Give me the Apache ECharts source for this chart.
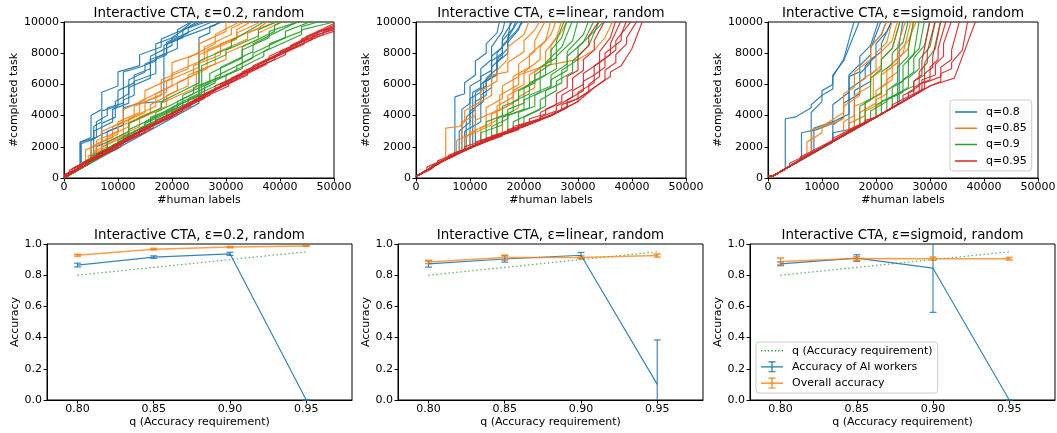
<!DOCTYPE html>
<html>
<head>
<meta charset="utf-8">
<script src="https://cdn.jsdelivr.net/npm/echarts@6/dist/echarts.min.js"></script>
<style>
html, body { margin: 0; padding: 0; background: #fff; }
#chart { width: 1057px; height: 433px; }
</style>
</head>
<body>
<div id="chart"></div>
<script>
// ---- Completed-task traces ----------------------------------------------
// Each run is a flat list of vertices: x, y, x, y, ...
// x = human labels (thousands), y = completed tasks (thousands).

// ε = 0.2
const runsEps02Q80 = [
  [0,0, 3,0.6, 3,2.3, 6,2.6, 6,3.6, 8,4.0, 8,4.5, 11,4.8, 11,6.8, 14,7.1, 17,7.5, 17,8.6, 21,9.1, 21,9.5, 24,10.1],
  [0,0, 3.2,0.7, 3.2,2.2, 5.5,2.5, 5.5,3.3, 7,3.6, 7,4.3, 10,4.6, 10,5.6, 13,6.1, 13,6.6, 16,7.0, 16,7.8, 20,8.5, 20,9.0, 25,10.1],
  [0,0, 5,1.0, 5,2.4, 7,2.8, 7,3.5, 9.5,3.9, 9.5,4.9, 12,5.4, 12,6.3, 15,6.8, 15,7.3, 19,7.9, 19,8.6, 23,9.3, 23,9.6, 27,10.1],
  [0,0, 6,1.2, 6,2.0, 8,2.3, 8,3.0, 11,3.4, 11,4.5, 14,4.8, 18.5,4.9, 18.5,8.5, 22,9.0, 22,9.5, 26,10.1],
  [0,0, 25,4.8, 25,9.0, 27,9.3, 27,9.7, 30,10.1],
  [0,0, 3,0.6, 3,2.3, 5,2.6, 5,4.0, 7,4.4, 7,5.5, 10,5.9, 10,6.8, 14,7.2, 14,7.9, 18,8.4, 18,8.9, 22,9.5, 24,10.1],
  [0,0, 5.5,1.1, 5.5,3.0, 9,3.6, 9,4.4, 12,4.8, 12,5.8, 16,6.4, 16,7.6, 19,8.0, 19,8.7, 24,9.5, 28,10.1],
  [0,0, 7,1.4, 7,2.8, 11,3.4, 11,5.0, 13,5.3, 13,6.2, 17,6.7, 17,7.7, 21,8.3, 21,8.9, 28,9.8, 29,10.1]
];
const runsEps02Q85 = [
  [0,0, 4,0.8, 4,1.8, 7,2.2, 7,3.0, 11,3.6, 11,4.4, 15,5.0, 15,5.6, 20,6.4, 20,7.4, 25,8.0, 25,8.6, 30,9.4, 30,10.1],
  [0,0, 5,1.0, 5,2.0, 9,2.6, 9,3.3, 13,3.9, 13,4.6, 18,5.3, 18,6.3, 23,7.0, 23,7.7, 28,8.6, 28,9.2, 33,10.1],
  [0,0, 6,1.2, 6,2.4, 10,3.0, 10,3.6, 14,4.2, 14,4.9, 20,5.9, 20,6.7, 26,7.6, 26,8.4, 31,9.2, 31,9.6, 34,10.1],
  [0,0, 4.5,0.9, 4.5,1.4, 8,2.0, 8,2.6, 12,3.3, 12,3.8, 17,4.6, 17,5.4, 24,6.6, 24,7.2, 29,7.9, 29,8.6, 36,9.6, 38,10.1],
  [0,0, 7,1.4, 7,2.0, 11,2.7, 11,3.4, 16,4.2, 16,4.7, 21,5.6, 21,6.1, 26.5,7.0, 26.5,8.2, 32,9.0, 32,9.3, 37,10.1],
  [0,0, 5.5,1.1, 5.5,1.7, 12,2.8, 12,3.5, 18,4.4, 18,4.8, 24.5,5.8, 24.5,6.8, 30,7.6, 30,8.0, 36,8.9, 36,9.3, 41,10.1],
  [0,0, 3,0.6, 3,0.9, 6,1.4, 6,2.2, 10,2.8, 10,3.4, 15,4.2, 15,4.9, 19,5.5, 19,6.2, 25,7.1, 25,7.9, 32,8.9, 32,9.5, 35,10.1],
  [0,0, 8,1.6, 8,2.3, 14,3.3, 14,3.9, 19,4.6, 19,5.3, 23,5.9, 23,6.6, 28,7.3, 28,8.0, 34,8.9, 34,9.3, 40,10.1]
];
const runsEps02Q90 = [
  [0,0, 4,0.8, 4,1.1, 8,1.8, 8,2.3, 12,3.0, 12,3.5, 18,4.5, 18,4.9, 25,6.1, 25,7.5, 31,8.4, 31,8.8, 37,10.0],
  [0,0, 5,1.0, 5,1.2, 10,2.0, 10,2.4, 15,3.3, 15,3.6, 22,4.9, 22,5.3, 27,6.1, 27,6.7, 33,7.7, 33,8.4, 39,9.4, 39,9.8, 41,10.1],
  [0,0, 6,1.2, 6,1.5, 12,2.5, 12,3.1, 17,3.9, 17,4.2, 24,5.4, 24,5.8, 29,6.5, 29,7.1, 35,8.1, 35,8.6, 42,9.8, 44,10.1],
  [0,0, 7,1.4, 7,1.7, 13,2.7, 13,3.0, 19,4.0, 19,4.3, 25,5.3, 25,5.9, 30,6.6, 33,7.0, 33,8.2, 38,9.0, 38,9.4, 45,10.2],
  [0,0, 5,1.0, 5,1.4, 11,2.4, 11,2.7, 16,3.4, 16,3.9, 21,4.5, 21,4.9, 28,6.1, 28,6.5, 35,7.7, 35,8.0, 41,9.0, 41,9.4, 47,10.2],
  [0,0, 8,1.6, 8,1.9, 14,2.9, 14,3.2, 20,4.1, 20,4.5, 26,5.4, 26,5.9, 32,6.9, 32,7.2, 38,8.3, 38,8.6, 44,9.4, 44,9.7, 49,10.2],
  [0,0, 9,1.8, 9,2.1, 15,3.1, 15,3.5, 22,4.6, 22,4.9, 25.5,5.4, 25.5,7.2, 30,7.9, 30,8.2, 36,9.1, 36,9.5, 40,10.1],
  [0,0, 10,2.0, 10,2.3, 17,3.5, 17,3.9, 23,4.8, 23,5.1, 30,6.2, 30,6.6, 37,7.8, 37,8.1, 44,9.2, 44,9.5, 50,10.0]
];
const runsEps02Q95 = [
  [0,0.1, 2,0.5, 2,0.7, 6,1.3, 6,1.5, 11,2.2, 11,2.5, 16,3.2, 16,3.4, 22,4.3, 22,4.6, 28,5.6, 28,5.9, 35,7.0, 35,7.2, 42,8.3, 42,8.5, 50,9.8],
  [0,0.2, 3,0.6, 3,0.8, 8,1.6, 8,1.8, 13,2.6, 13,2.8, 19,3.8, 19,4.0, 25,5.0, 25,5.2, 31,6.2, 31,6.4, 38,7.6, 38,7.8, 45,8.9, 45,9.1, 50,9.7],
  [0,0, 1,0.3, 1,0.5, 5,1.1, 5,1.3, 9,1.9, 9,2.1, 14,2.9, 14,3.1, 20,4.0, 20,4.2, 26,5.2, 26,5.4, 33,6.6, 33,6.8, 40,7.9, 40,8.1, 47,9.2, 47,9.4, 50,9.6],
  [0,0.1, 4,0.8, 4,1.0, 10,1.9, 10,2.1, 15,2.9, 15,3.1, 21,4.1, 21,4.3, 27,5.3, 27,5.5, 34,6.6, 34,6.8, 41,7.9, 41,8.1, 48,9.2, 48,9.4, 50,9.6],
  [0,0, 2.5,0.5, 2.5,0.7, 7,1.4, 7,1.6, 12,2.4, 12,2.6, 18,3.6, 18,3.8, 24,4.8, 24,5.0, 30,6.0, 30,6.2, 37,7.3, 37,7.5, 44,8.7, 44,8.9, 50,9.9],
  [0,0.2, 3.5,0.8, 3.5,1.0, 9,1.8, 9,2.0, 14,2.8, 14,3.0, 20,3.9, 20,4.1, 26,5.1, 26,5.3, 32,6.3, 32,6.5, 39,7.6, 39,7.8, 46,8.9, 46,9.1, 50,9.5],
  [0,0, 1.5,0.4, 1.5,0.6, 6.5,1.4, 6.5,1.6, 11.5,2.4, 11.5,2.6, 17,3.5, 17,3.7, 23,4.6, 23,4.8, 29,5.8, 29,6.0, 36,7.1, 36,7.3, 43,8.4, 43,8.6, 50,9.6],
  [0,0.1, 4.5,0.9, 4.5,1.1, 10.5,2.0, 10.5,2.2, 16.5,3.2, 16.5,3.4, 23.5,4.6, 23.5,4.8, 30.5,5.9, 30.5,6.1, 37.5,7.3, 37.5,7.5, 44.5,8.6, 44.5,8.8, 50,9.4]
];

// ε = linear
const runsLinQ80 = [
  [0,0.1, 5,1.1, 7.2,1.5, 7.2,5.2, 9,5.4, 9,6.1, 11,6.6, 11,7.5, 13,8.0, 13,8.6, 15,9.3, 15.5,10.1],
  [0,0.1, 5,1.1, 8.5,1.75, 8.5,4.4, 10,4.8, 10,5.9, 12,6.3, 12,7.0, 14,7.6, 14,8.4, 16,9.4, 16.5,10.1],
  [0,0.1, 5,1.1, 9.3,1.85, 9.3,3.9, 11,4.4, 11,5.5, 13,5.9, 13,6.4, 15,7.0, 15,8.0, 17,8.8, 17.5,10.1],
  [0,0.1, 5,1.1, 10.5,2.0, 10.5,5.5, 12,5.8, 12,6.5, 14,6.9, 14,7.8, 16,8.4, 16,9.0, 18,10.1],
  [0,0.1, 5,1.1, 8,1.65, 8,3.0, 10,3.6, 10,5.1, 12,5.5, 12,6.0, 14,6.6, 14,7.5, 16,8.0, 16,8.8, 18,9.6, 18.5,10.1],
  [0,0.1, 5,1.1, 11,2.1, 11,4.9, 13,5.3, 13,6.2, 15,6.6, 15,7.4, 17,8.0, 17,8.7, 19,9.5, 19.5,10.1],
  [0,0.1, 5,1.1, 9,1.8, 9,3.0, 12,3.6, 12,5.3, 14,5.8, 14,7.1, 16,7.8, 16,8.5, 18.5,9.4, 20,10.1],
  [0,0.1, 5,1.1, 10,1.95, 10,4.3, 12.5,4.9, 12.5,6.1, 15,6.7, 15,7.6, 17,8.3, 17,9.0, 19,10.1]
];
const runsLinQ85 = [
  [0,0.1, 5.5,1.2, 5.5,3.2, 8,3.3, 9,3.6, 9,4.3, 12,4.9, 12,5.6, 15,6.2, 15,6.9, 17,7.6, 17,8.4, 20,9.2, 21,10.1],
  [0,0.1, 5,1.1, 8.5,1.7, 8.5,3.6, 11,4.0, 11,4.7, 14,5.3, 14,6.6, 17,6.8, 17,7.4, 20,8.1, 20,8.8, 22,9.5, 23,10.1],
  [0,0.1, 5,1.1, 10,1.95, 10,2.9, 13,3.4, 13,4.5, 16,5.1, 16,5.9, 19,6.5, 19,7.3, 22,8.1, 22,8.8, 24,10.1],
  [0,0.1, 5,1.1, 10,1.95, 12,2.3, 12,3.2, 15,3.7, 15,4.6, 18,5.2, 18,6.5, 21,7.1, 21,7.9, 24,8.8, 25,10.1],
  [0,0.1, 5,1.1, 10,1.95, 15,2.65, 15,4.3, 18,4.8, 18,5.6, 20,6.0, 20,6.8, 23,7.6, 23,8.4, 25,9.2, 26,10.1],
  [0,0.1, 5,1.1, 9,1.8, 9,2.6, 14,3.4, 14,4.1, 17,4.6, 17,5.3, 21,6.0, 21,6.6, 24,7.3, 24,8.1, 26,9.0, 27,10.1],
  [0,0.1, 5,1.1, 7.5,1.5, 7.5,2.4, 11,3.0, 11,3.7, 15.5,4.4, 15.5,5.3, 19,6.0, 19,6.6, 24,7.2, 30,7.6, 33,8.2, 35,9.0, 36.5,10.1],
  [0,0.1, 5,1.1, 10,1.95, 16,2.8, 16,3.9, 19,4.5, 19,5.2, 22,5.8, 22,6.8, 25,7.6, 25,8.5, 27,9.4, 28,10.1]
];
const runsLinQ90 = [
  [0,0.1, 5,1.1, 10,1.95, 13,2.4, 13,3.6, 16,4.0, 16,4.6, 19,5.0, 19,5.6, 22,6.1, 22,6.6, 25,7.3, 25,8.2, 27,9.0, 28,10.1],
  [0,0.1, 5,1.1, 10,1.95, 15,2.65, 15,3.8, 18,4.3, 18,4.9, 21,5.4, 21,6.1, 24,6.6, 24,7.4, 27,8.4, 29,10.1],
  [0,0.1, 5,1.1, 10,1.95, 15,2.65, 17,3.0, 17,4.0, 20,4.4, 20,5.0, 23,5.5, 23,6.4, 26,7.0, 26,7.8, 29,8.8, 30,10.1],
  [0,0.1, 5,1.1, 10,1.95, 15,2.65, 19,3.2, 19,4.2, 22,4.6, 22,5.3, 25,5.8, 25,6.6, 28,7.3, 28,8.1, 31,9.2, 32,10.1],
  [0,0.1, 5,1.1, 10,1.95, 12,2.25, 12,2.9, 16,3.4, 16,3.9, 21,4.5, 21,5.3, 25,5.9, 25,6.3, 28,6.9, 28,7.8, 31,8.7, 33,10.1],
  [0,0.1, 5,1.1, 10,1.95, 15,2.65, 20,3.3, 20,3.9, 23,4.4, 23,5.0, 26,5.6, 26,6.2, 29,6.8, 29,7.5, 32,8.5, 34,10.1],
  [0,0.1, 5,1.1, 10,1.95, 15,2.65, 18,3.1, 18,3.6, 24,4.6, 24,5.6, 27,6.1, 27,6.9, 30,7.6, 30,8.4, 33,9.4, 35,10.1],
  [0,0.1, 5,1.1, 10,1.95, 14,2.5, 14,3.3, 17,3.8, 17,4.4, 20,4.8, 20,5.8, 23,6.4, 23,7.1, 26,7.7, 26,8.8, 27.5,10.1]
];
const runsLinQ95 = [
  [0,0.1, 3,0.6, 3,0.8, 7,1.4, 7,1.6, 12,2.2, 12,2.4, 17,2.9, 17,3.1, 21,3.5, 21,3.8, 24,4.1, 24,4.4, 27,4.9, 27,5.3, 29,5.7, 29,6.4, 31,6.9, 31,7.6, 33,8.2, 33,8.8, 35,10.1],
  [0,0.1, 5,1.1, 10,1.95, 14,2.5, 14,2.7, 20,3.3, 23,3.7, 23,3.9, 26,4.3, 26,4.6, 29,5.2, 29,5.6, 31,6.0, 31,6.7, 34,7.4, 34,8.1, 36,9.0, 37,10.1],
  [0,0.1, 4,0.9, 4,1.1, 9,1.8, 9,2.0, 15,2.65, 18,3.0, 18,3.3, 25,4.0, 28,4.6, 28,5.0, 31,5.6, 31,6.2, 33,6.6, 33,7.2, 36,7.9, 36,8.6, 38,10.1],
  [0,0.1, 5,1.1, 10,1.95, 16,2.7, 16,2.9, 22,3.6, 25,4.0, 30,4.9, 30,5.5, 33,6.1, 33,6.6, 35,7.1, 35,8.0, 38,8.8, 38,9.2, 39,10.1],
  [0,0.1, 2,0.5, 2,0.7, 8,1.6, 13,2.35, 13,2.55, 20,3.3, 25,4.05, 27,4.4, 27,4.7, 30,5.1, 32,5.5, 32,6.0, 34,6.5, 34,7.4, 37,8.2, 37,8.8, 40,10.1],
  [0,0.1, 5,1.1, 10,1.95, 15,2.65, 19,3.1, 19,3.35, 25,4.0, 30,4.9, 33,5.8, 35,6.3, 35,6.9, 37,7.4, 37,7.9, 39,8.6, 39,9.0, 41,10.1],
  [0,0.1, 6,1.25, 6,1.45, 10,1.95, 15,2.65, 20,3.3, 25,4.0, 28,4.5, 28,4.8, 30,5.1, 33,5.8, 36,6.5, 36,6.8, 38,7.2, 40,8.3, 42,10.1],
  [0,0.1, 5,1.1, 11,2.05, 11,2.3, 20,3.3, 23,3.8, 23,4.2, 26,4.7, 26,5.4, 28,5.8, 28,6.5, 30,6.9, 30,7.8, 32,8.5, 32,9.1, 34,10.1]
];

// ε = sigmoid
const runsSigQ80 = [
  [0,0.15, 1,0.15, 3.2,0.6, 3.2,3.8, 5,3.9, 8,4.5, 8,4.7, 10,5.3, 10,5.6, 12,6.0, 12,6.5, 14,7.6, 16,10.1],
  [0,0.15, 1,0.15, 8,1.6, 8,4.2, 10,4.9, 10,5.3, 12,5.7, 12,6.6, 14,7.5, 17,10.1],
  [0,0.15, 1,0.15, 6.2,1.2, 6.2,2.9, 9,3.1, 12,3.5, 12,4.7, 15,5.5, 15,6.6, 17,7.3, 17,7.8, 19,8.5, 20.5,10.1],
  [0,0.15, 1,0.15, 12,2.3, 12,2.9, 15,3.1, 15,6.5, 17,6.8, 17,7.2, 19,7.9, 19,8.4, 21,9.2, 22,10.1],
  [0,0.15, 1,0.15, 8.5,1.7, 8.5,3.2, 12,3.6, 15,4.1, 15,5.7, 18,6.4, 18,7.2, 20,7.8, 20,8.6, 22,9.4, 23,10.1],
  [0,0.15, 1,0.15, 10,1.95, 16,3.2, 16,5.6, 19,6.2, 19,7.6, 21,8.1, 21,8.6, 23,10.1],
  [0,0.15, 1,0.15, 10,1.95, 20,3.9, 24.3,4.8, 24.3,8.6, 25,10.1],
  [0,0.15, 1,0.15, 12,2.3, 12,3.4, 14,3.9, 14,4.8, 17,5.4, 17,6.7, 19,7.4, 19,8.3, 21,10.1]
];
const runsSigQ85 = [
  [0,0.15, 1,0.15, 7.2,1.4, 7.2,2.3, 10,2.9, 10,3.3, 14,4.2, 14,5.4, 16,5.8, 16,6.8, 19,7.6, 19,8.4, 21,9.2, 22,10.1],
  [0,0.15, 1,0.15, 8.1,1.6, 8.1,3.1, 12,3.5, 14,3.8, 14,4.6, 17,5.3, 17,6.2, 20,6.9, 20,8.0, 22,8.7, 23,10.1],
  [0,0.15, 1,0.15, 10,1.95, 14,2.8, 14,3.6, 16,4.0, 16,5.3, 19,5.9, 19,6.6, 21,7.2, 21,8.1, 23,8.8, 24,10.1],
  [0,0.15, 1,0.15, 10,1.95, 16,3.2, 16,4.6, 19.5,5.1, 19.5,6.5, 21,6.9, 21,7.6, 23,8.3, 24.5,10.1],
  [0,0.15, 1,0.15, 10,1.95, 17,3.3, 17,4.2, 20,4.8, 20,5.6, 22,6.1, 22,7.0, 24,7.7, 24,8.5, 25.5,10.1],
  [0,0.15, 1,0.15, 10,1.95, 18,3.5, 18,4.3, 21,4.8, 21,5.8, 23,6.3, 23,7.3, 25,8.0, 26.5,10.1],
  [0,0.15, 1,0.15, 10,1.95, 15,2.9, 15,3.5, 18,4.0, 18,4.8, 21,5.5, 21,6.6, 24,7.4, 24,8.0, 26,8.8, 27.5,10.1],
  [0,0.15, 1,0.15, 10,1.95, 20,3.9, 20,5.0, 22,5.4, 22,6.3, 24,6.8, 24,7.6, 26,8.3, 27,10.1]
];
const runsSigQ90 = [
  [0,0.15, 1,0.15, 10,1.95, 17,3.3, 17,4.6, 19,5.0, 19,6.4, 21,7.0, 21,7.6, 23,8.3, 24.5,10.1],
  [0,0.15, 1,0.15, 10,1.95, 18,3.5, 18,4.9, 21,5.4, 21,6.8, 23,7.3, 23,8.0, 25,8.7, 26,10.1],
  [0,0.15, 1,0.15, 10,1.95, 19,3.7, 19,4.3, 22,4.9, 22,5.6, 24,6.1, 24,7.1, 26,7.8, 26,8.4, 27,10.1],
  [0,0.15, 1,0.15, 10,1.95, 20,3.9, 20,4.7, 23,5.2, 23,5.8, 25,6.2, 25,7.2, 27,7.9, 28,10.1],
  [0,0.15, 1,0.15, 10,1.95, 21,4.1, 21,4.9, 24,5.4, 24,6.0, 26,6.5, 26,7.6, 28,8.3, 29,10.1],
  [0,0.15, 1,0.15, 10,1.95, 22,4.3, 22,5.0, 25,5.5, 25,6.3, 27,6.8, 27,7.7, 29,8.5, 30,10.1],
  [0,0.15, 1,0.15, 10,1.95, 23,4.5, 23,5.2, 26,5.8, 26,6.4, 28,7.0, 28,7.6, 30,8.4, 31,10.1],
  [0,0.15, 1,0.15, 10,1.95, 24,4.7, 24,5.4, 27,5.9, 27,6.2, 29,6.6, 29,7.4, 31,8.3, 32,10.1]
];
const runsSigQ95 = [
  [0,0.15, 1,0.15, 6,1.15, 6,1.35, 13,2.6, 20,3.9, 25,4.9, 25,5.3, 27,5.6, 27,6.2, 28.5,6.6, 28.5,7.5, 30,10.1],
  [0,0.15, 1,0.15, 10,1.95, 15,2.9, 15,3.1, 20,3.9, 26,5.1, 26,5.5, 28,5.9, 28,6.8, 29.5,7.4, 29.5,8.1, 31,10.1],
  [0,0.15, 1,0.15, 4,0.75, 4,0.95, 10,1.95, 20,3.9, 27,5.3, 27,5.8, 29,6.2, 29,6.7, 30.5,7.1, 30.5,7.8, 32,10.1],
  [0,0.15, 1,0.15, 10,1.95, 18,3.5, 18,3.7, 20,3.9, 28,5.5, 28,6.0, 30,6.3, 30,7.1, 31.5,7.6, 31.5,8.3, 33,10.1],
  [0,0.15, 1,0.15, 10,1.95, 12,2.35, 12,2.55, 20,3.9, 28.5,5.6, 28.5,6.3, 31,6.6, 31,7.3, 32.5,7.8, 32.5,8.6, 34,10.1],
  [0,0.15, 1,0.15, 10,1.95, 20,3.9, 23,4.5, 23,4.7, 29,5.75, 29,6.1, 32,6.5, 32,7.1, 34,7.6, 34,8.2, 35.5,10.1],
  [0,0.15, 1,0.15, 10,1.95, 20,3.9, 30,5.9, 32,6.2, 32,6.7, 34,7.0, 34,7.4, 36,8.2, 37,10.1],
  [0,0.15, 1,0.15, 10,1.95, 20,3.9, 30,5.9, 34.5,6.4, 38.5,10.1]
];

// ---- Accuracy summaries ----------------------------------------------------
const qLevels = [0.80, 0.85, 0.90, 0.95];

const aiAccEps02 = [0.865, 0.916, 0.937, 0.0];
const aiErrEps02 = [0.012, 0.008, 0.010, 0.0];
const overallEps02 = [0.928, 0.967, 0.980, 0.987];
const overallErrEps02 = [0.006, 0.005, 0.004, 0.002];

const aiAccLin = [0.872, 0.904, 0.928, 0.10];
const aiErrLin = [0.020, 0.020, 0.018, 0.285];
const overallLin = [0.885, 0.913, 0.914, 0.926];
const overallErrLin = [0.010, 0.016, 0.010, 0.010];

const aiAccSig = [0.873, 0.910, 0.845, 0.0];
const aiErrSig = [0.012, 0.021, 0.283, 0.0];
const overallSig = [0.888, 0.907, 0.906, 0.906];
const overallErrSig = [0.022, 0.012, 0.010, 0.008];

// ---- Labels ----------------------------------------------------------------
const panelTitles = [
  'Interactive CTA, ε=0.2, random',
  'Interactive CTA, ε=linear, random',
  'Interactive CTA, ε=sigmoid, random'
];
const qNames = ['q=0.8', 'q=0.85', 'q=0.9', 'q=0.95'];
const xTicksQ = [0.80, 0.85, 0.90, 0.95];
const reqName = 'q (Accuracy requirement)';
const aiName = 'Accuracy of AI workers';
const overallName = 'Overall accuracy';

// ---- Chart -----------------------------------------------------------------
const FONT = 'DejaVu Sans';
const C = { blue: '#1f77b4', orange: '#ff7f0e', green: '#2ca02c', red: '#d62728' };
const qColors = [C.blue, C.orange, C.green, C.red];

const topRuns = [
  [runsEps02Q80, runsEps02Q85, runsEps02Q90, runsEps02Q95],
  [runsLinQ80, runsLinQ85, runsLinQ90, runsLinQ95],
  [runsSigQ80, runsSigQ85, runsSigQ90, runsSigQ95]
];
const accPanels = [
  { ai: aiAccEps02, aiErr: aiErrEps02, all: overallEps02, allErr: overallErrEps02 },
  { ai: aiAccLin, aiErr: aiErrLin, all: overallLin, allErr: overallErrLin },
  { ai: aiAccSig, aiErr: aiErrSig, all: overallSig, allErr: overallErrSig }
];

function toPairs(run) {
  const out = [];
  for (let i = 0; i < run.length; i += 2) out.push([run[i] * 1000, run[i + 1] * 1000]);
  return out;
}

const topGridLefts = [64, 416, 768];
const botGridLefts = [47, 398, 750];
const grids = [];
topGridLefts.forEach(l => grids.push({ left: l, top: 22, width: 270, height: 156 }));
botGridLefts.forEach(l => grids.push({ left: l, top: 244, width: 305, height: 156 }));
grids.forEach(g => {
  g.show = true; g.borderColor = '#000'; g.borderWidth = 1;
  g.backgroundColor = 'transparent'; g.outerBoundsMode = 'none'; g.containLabel = false;
});

const titles = grids.map((g, i) => ({
  text: panelTitles[i % 3],
  left: g.left + g.width / 2,
  top: i < 3 ? 7 : 229,
  textAlign: 'center',
  padding: 0,
  textStyle: { fontFamily: FONT, fontSize: 13.4, fontWeight: 'normal', color: '#000' }
}));

const axisText = { fontFamily: FONT, fontSize: 11, color: '#000' };
const axisCommon = {
  axisLine: { show: true, onZero: false, lineStyle: { color: '#000', width: 1 } },
  axisTick: { show: true, length: 3.5, lineStyle: { color: '#000', width: 1 } },
  splitLine: { show: false },
  nameLocation: 'middle',
  nameTextStyle: axisText
};
const plainNumber = v => String(Math.round(v));

const xAxes = [], yAxes = [];
for (let i = 0; i < 3; i++) {
  xAxes.push(Object.assign({}, axisCommon, {
    type: 'value', gridIndex: i, min: 0, max: 50000, interval: 10000,
    name: '#human labels', nameGap: 17,
    axisLabel: Object.assign({ margin: 4, formatter: plainNumber }, axisText)
  }));
  yAxes.push(Object.assign({}, axisCommon, {
    type: 'value', gridIndex: i, min: 0, max: 10000, interval: 2000,
    name: '#completed task', nameGap: 41,
    axisLabel: Object.assign({ margin: 5, formatter: plainNumber }, axisText)
  }));
}
for (let i = 0; i < 3; i++) {
  xAxes.push(Object.assign({}, axisCommon, {
    type: 'value', gridIndex: i + 3, min: 0.78, max: 0.98,
    name: 'q (Accuracy requirement)', nameGap: 17,
    axisTick: { show: true, length: 3.5, lineStyle: { color: '#000', width: 1 }, customValues: xTicksQ },
    axisLabel: Object.assign({ margin: 4, customValues: xTicksQ, formatter: v => Number(v).toFixed(2) }, axisText)
  }));
  yAxes.push(Object.assign({}, axisCommon, {
    type: 'value', gridIndex: i + 3, min: 0, max: 1, interval: 0.2,
    name: 'Accuracy', nameGap: 23,
    axisLabel: Object.assign({ margin: 5, formatter: v => Number(v).toFixed(1) }, axisText)
  }));
}

const series = [];
topRuns.forEach((panel, p) => {
  panel.forEach((runs, k) => {
    runs.forEach(run => {
      series.push({
        type: 'line', name: qNames[k], xAxisIndex: p, yAxisIndex: p,
        data: toPairs(run), symbol: 'none', silent: true, clip: true,
        lineStyle: { color: qColors[k], width: 1.2, opacity: 0.9 },
        itemStyle: { color: qColors[k] }
      });
    });
  });
});

function errorBars(name, color, gi, values, errs, width) {
  return {
    type: 'custom', name, xAxisIndex: gi, yAxisIndex: gi, silent: true,
    itemStyle: { color },
    data: qLevels.map((q, j) => [q, values[j] - errs[j], values[j] + errs[j]]),
    encode: { x: 0, y: [1, 2] },
    renderItem(params, api) {
      const cs = params.coordSys;
      const yTop = cs.y, yBot = cs.y + cs.height;
      const x = api.value(0);
      const a = api.coord([x, api.value(1)]);
      const b = api.coord([x, api.value(2)]);
      const style = { stroke: color, lineWidth: width, opacity: 0.85 };
      const clampY = v => Math.min(yBot, Math.max(yTop, v));
      const children = [{
        type: 'line', shape: { x1: a[0], y1: clampY(a[1]), x2: b[0], y2: clampY(b[1]) }, style
      }];
      const w = 3.5;
      [a, b].forEach(pt => {
        if (pt[1] >= yTop - 0.5 && pt[1] <= yBot + 0.5) {
          children.push({ type: 'line', shape: { x1: pt[0] - w, y1: pt[1], x2: pt[0] + w, y2: pt[1] }, style });
        }
      });
      return { type: 'group', children };
    }
  };
}

accPanels.forEach((d, p) => {
  const gi = p + 3;
  series.push({
    type: 'line', name: reqName, xAxisIndex: gi, yAxisIndex: gi, silent: true,
    data: qLevels.map(q => [q, q]), symbol: 'none',
    lineStyle: { color: C.green, width: 1.2, type: [1.5, 2.5], opacity: 0.8 },
    itemStyle: { color: C.green }
  });
  series.push({
    type: 'line', name: aiName, xAxisIndex: gi, yAxisIndex: gi, silent: true,
    data: qLevels.map((q, j) => [q, d.ai[j]]), symbol: 'none', clip: true,
    lineStyle: { color: C.blue, width: 1.2, opacity: 0.9 },
    itemStyle: { color: C.blue }
  });
  series.push(errorBars(aiName, C.blue, gi, d.ai, d.aiErr, 1.2));
  series.push({
    type: 'line', name: overallName, xAxisIndex: gi, yAxisIndex: gi, silent: true,
    data: qLevels.map((q, j) => [q, d.all[j]]), symbol: 'none', clip: true,
    lineStyle: { color: C.orange, width: 1.5, opacity: 0.75 },
    itemStyle: { color: C.orange }
  });
  series.push(errorBars(overallName, C.orange, gi, d.all, d.allErr, 1.5));
});

// Legend glyphs: zero-area corner points fix the 22x12 box so the strokes keep their thickness.
const boxPts = 'M0,0L0.01,0L0,0Z M22,12L21.99,12L22,12Z ';
const lineIcon = 'path://' + boxPts + 'M0,5.25L22,5.25L22,6.75L0,6.75Z';
let dots = '';
for (let x = 0; x < 22; x += 3.6) dots += 'M' + x + ',5.3L' + (x + 1.4) + ',5.3L' + (x + 1.4) + ',6.7L' + x + ',6.7Z ';
const dotIcon = 'path://' + boxPts + dots;
const errIcon = 'path://' + boxPts +
  'M0,5.4L22,5.4L22,6.6L0,6.6Z M10.4,0.5L11.6,0.5L11.6,11.5L10.4,11.5Z M7.5,0.5L14.5,0.5L14.5,1.6L7.5,1.6Z M7.5,10.4L14.5,10.4L14.5,11.5L7.5,11.5Z';

const legendBox = {
  orient: 'vertical', backgroundColor: 'rgba(255,255,255,0.8)', borderColor: '#cccccc',
  borderWidth: 1, borderRadius: 3, itemWidth: 22, itemHeight: 12, itemGap: 4.3,
  textStyle: { fontFamily: FONT, fontSize: 11, color: '#000', padding: [0, 0, 0, 4] },
  selectedMode: false
};
const legends = [
  Object.assign({}, legendBox, {
    data: qNames.map(n => ({ name: n, icon: lineIcon })),
    left: 950, top: 100, padding: [6, 5, 4, 5]
  }),
  Object.assign({}, legendBox, {
    data: [
      { name: reqName, icon: dotIcon },
      { name: aiName, icon: errIcon },
      { name: overallName, icon: errIcon }
    ],
    left: 756, top: 342, padding: [3, 5, 4, 5]
  })
];

const chart = echarts.init(document.getElementById('chart'), null, { renderer: 'canvas' });
chart.setOption({
  animation: false,
  backgroundColor: '#fff',
  textStyle: { fontFamily: FONT },
  title: titles,
  grid: grids,
  xAxis: xAxes,
  yAxis: yAxes,
  legend: legends,
  series
});
</script>
</body>
</html>
